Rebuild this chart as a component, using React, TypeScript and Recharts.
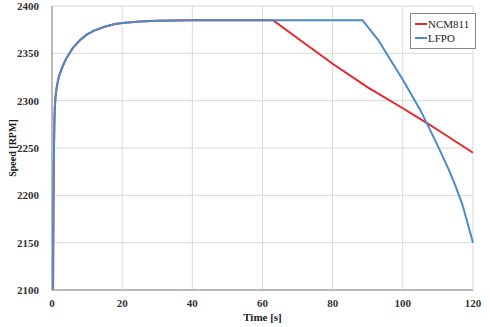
import React from "react"
import { LineChart, Line, XAxis, YAxis, CartesianGrid, Legend } from "recharts"

// time [s] / speed [RPM]
const startT = [0.3, 0.4, 0.5, 0.6, 0.7, 0.8, 1, 1.3, 1.6, 2, 2.5, 3, 4, 5, 6, 7, 8, 10, 12, 15, 18, 20, 25, 30, 40, 50, 60]
const startV = [2100, 2180, 2230, 2258, 2280, 2293, 2304, 2313, 2319, 2326, 2331, 2336, 2344, 2350, 2356, 2360, 2364, 2370, 2374, 2378, 2381, 2382, 2383.5, 2384.5, 2385, 2385, 2385]

const ncmT = [63, 70, 80, 90, 100, 107, 110, 120]
const ncmV = [2385, 2366, 2339, 2314, 2292, 2276, 2269, 2245]

const lfpoT = [70, 80, 88.5, 90, 93, 95, 100, 105, 107, 110, 113, 115, 117, 120]
const lfpoV = [2385, 2385, 2385, 2378, 2364, 2352, 2322, 2290, 2275, 2252, 2228, 2210, 2190, 2150]

const xTicks = [0, 20, 40, 60, 80, 100, 120]
const yTicks = [2100, 2150, 2200, 2250, 2300, 2350, 2400]

const series = [
  { name: "NCM811", color: "#e8262a" },
  { name: "LFPO", color: "#4a8cc8" },
]

const toRows = (ts: number[], vs: number[]) => ts.map((t, i) => ({ t, v: vs[i] }))
const ncmData = [...toRows(startT, startV), ...toRows(ncmT, ncmV)]
const lfpoData = [...toRows(startT, startV), ...toRows(lfpoT, lfpoV)]

const font = "'Liberation Serif', 'Times New Roman', serif"
const tickStyle = { fontFamily: font, fontSize: 11, fontWeight: 600, fill: "#333" }

const LegendBox = () => (
  <div style={{ border: "1px solid #888", background: "#fff", padding: "3px 6px 3px 4px", fontFamily: font, fontSize: 11, color: "#222" }}>
    {series.map((s) => (
      <div key={s.name} style={{ display: "flex", alignItems: "center", height: 14 }}>
        <span style={{ display: "inline-block", width: 12, height: 2, background: s.color, marginRight: 1 }} />
        {s.name}
      </div>
    ))}
  </div>
)

export default function App() {
  return (
    <div style={{ position: "absolute", left: 0, top: 0, width: 490, height: 327, background: "#fff" }}>
      <LineChart width={490} height={327} margin={{ top: 6, right: 17, bottom: 7, left: 8 }}>
        <CartesianGrid stroke="#d9d9d9" />
        <XAxis
          dataKey="t"
          type="number"
          domain={[0, 120]}
          ticks={xTicks}
          tick={tickStyle}
          tickLine={false}
          tickMargin={3}
          height={30}
          stroke="#888"
          allowDuplicatedCategory={false}
          label={{ value: "Time [s]", position: "insideBottom", offset: -1, style: { ...tickStyle, fill: "#222" } }}
        />
        <YAxis
          type="number"
          domain={[2100, 2400]}
          ticks={yTicks}
          tick={tickStyle}
          tickLine={false}
          tickMargin={7}
          width={44}
          stroke="#888"
          label={{ value: "Speed [RPM]", angle: -90, position: "insideLeft", offset: 0, dx: 4, style: { ...tickStyle, fontSize: 10, fill: "#222", textAnchor: "middle" } }}
        />
        <Legend
          layout="vertical"
          verticalAlign="middle"
          align="center"
          content={LegendBox}
          wrapperStyle={{ top: 13, left: 410, width: "auto" }}
        />
        <Line data={ncmData} dataKey="v" name="NCM811" stroke="#e8262a" strokeWidth={2} dot={false} type="linear" isAnimationActive={false} />
        <Line data={lfpoData} dataKey="v" name="LFPO" stroke="#4a8cc8" strokeWidth={2} dot={false} type="linear" isAnimationActive={false} />
      </LineChart>
    </div>
  )
}
